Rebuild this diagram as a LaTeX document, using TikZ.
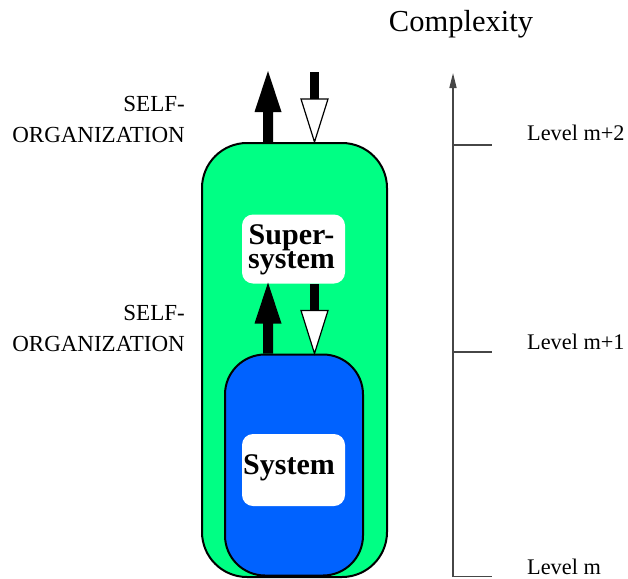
\documentclass[tikz,border=0pt]{standalone}
\usepackage{fontspec}
\setmainfont{Liberation Serif}
\usetikzlibrary{calc,arrows.meta}
\definecolor{sgreen}{RGB}{0,255,132}
\definecolor{sblue}{RGB}{0,98,255}
\definecolor{axisgray}{RGB}{70,70,70}
\tikzset{
  box/.style={draw=black,line width=2pt,inner sep=0pt},
  label/.style={font=\fontsize{23}{31}\selectfont,align=right,anchor=east,inner sep=0pt},
  lev/.style={font=\fontsize{22.3}{25}\selectfont,anchor=west,inner sep=0pt},
  inbox/.style={fill=white,rounded corners=11pt,inner sep=0pt,minimum width=103pt},
  intext/.style={font=\fontsize{30}{23.5}\selectfont\bfseries,align=center,inner sep=0pt},
  tick/.style={line width=1.3pt,draw=axisgray},
  uparr/.pic={
    \fill[black] (-5,0) -- (-5,-30) -- (-13.5,-30) -- (0,-71) -- (13.5,-30) -- (5,-30) -- (5,0) -- cycle;
  },
  downarr/.pic={
    \fill[black] (-4.5,-42) rectangle (4.5,-70);
    \draw[fill=white,line width=1.2pt,line join=miter] (0,0) -- (-13.5,-43) -- (13.5,-43) -- cycle;
  }
}
\begin{document}
\begin{tikzpicture}[x=1pt,y=-1pt]
\useasboundingbox (0,0) rectangle (628,578);
% outer (green) and inner (blue) boxes
\node[box,fill=sgreen,rounded corners=45pt,minimum width=185pt,minimum height=434pt] (outer) at (294.5,360) {};
\node[box,fill=sblue,rounded corners=40pt,minimum width=138pt,minimum height=221pt] (inner) at (294,465) {};
\node[inbox,minimum height=69pt] (super) at (293.5,249) {};
\node[intext] (supert) at (291.5,250) {Super-\\system};
\node[inbox,minimum height=72pt] (sys) at (293.5,470) {};
\node[intext] (syst) at (289,468) {System};
% arrows
\pic at ($(outer.north)+(-26.5,0)$) {uparr};
\pic at ($(outer.north)+(20,0)$) {downarr};
\pic at ($(inner.north)+(-26,0)$) {uparr};
\pic at ($(inner.north)+(20.5,0)$) {downarr};
% labels
\node[label] (so1) at (185,119) {SELF-\\ORGANIZATION};
\node[label] (so2) at (185,328) {SELF-\\ORGANIZATION};
% axis
\coordinate (abot) at (453,577);
\coordinate (atop) at (453,73);
\draw[line width=1.5pt,draw=axisgray,-{Triangle[length=15pt,width=7pt]}] (abot) -- (atop);
\coordinate (t2) at (453,145);
\coordinate (t1) at (453,352);
\coordinate (t0) at (453,576.5);
\draw[tick] (t2) -- ++(39,0);
\draw[tick] (t1) -- ++(39,0);
\draw[tick] (t0) -- ++(39,0);
\node[lev] (l2) at (527,133) {Level m+2};
\node[lev] (l1) at (527,342) {Level m+1};
\node[lev] (l0) at (527,567) {Level m};
\node[font=\fontsize{30.5}{31}\selectfont,inner sep=0pt] (cx) at (461,24) {Complexity};
\end{tikzpicture}
\end{document}
